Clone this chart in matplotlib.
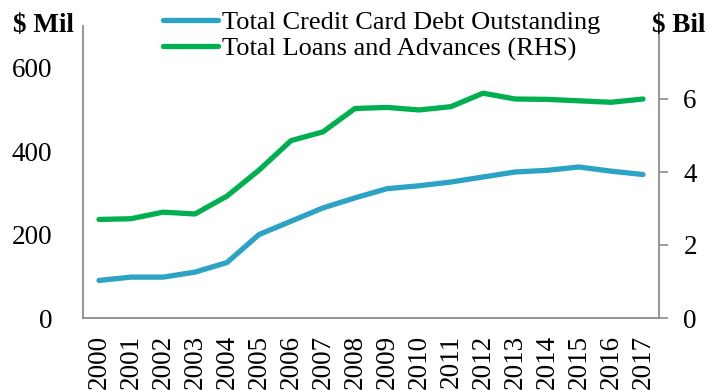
import matplotlib
matplotlib.use("Agg")
import matplotlib.pyplot as plt
from matplotlib.lines import Line2D

years = [str(y) for y in range(2000, 2018)]
credit_card_debt = [90, 98, 98, 110, 133, 200, 232, 264, 288, 310, 317, 326, 338, 350, 354, 362, 352, 344]
loans_advances = [2.70, 2.72, 2.90, 2.85, 3.34, 4.05, 4.86, 5.10, 5.74, 5.77, 5.70, 5.79, 6.16, 6.00, 5.99, 5.95, 5.91, 6.00]
left_ticks = [0, 200, 400, 600]
right_ticks = [0, 2, 4, 6]

plt.rcParams['font.family'] = ['Liberation Serif', 'DejaVu Serif']
FS = 19.5
blue = '#2CA3C5'
green = '#00B050'
spine_c = '#8C8C8C'

fig = plt.figure(figsize=(7.07, 3.9), dpi=100)
ax = fig.add_axes([83/707, 1-318/390, (659-83)/707, (318-26)/390])
ax2 = ax.twinx()

x = list(range(len(years)))
ax.plot(x, credit_card_debt, color=blue, lw=3.8, solid_capstyle='round', solid_joinstyle='round')
ax2.plot(x, loans_advances, color=green, lw=3.8, solid_capstyle='round', solid_joinstyle='round')

ax.set_xlim(-0.5, len(years) - 0.5)
ax.set_ylim(0, 700)
ax2.set_ylim(0, 8)
ax.set_xticks(x)
ax.set_xticklabels(years, rotation=90, fontsize=FS)
ax.set_yticks(left_ticks)
ax.set_yticklabels([str(v) for v in left_ticks], fontsize=FS)
ax2.set_yticks(right_ticks)
ax2.set_yticklabels([str(v) for v in right_ticks], fontsize=FS)

ax.tick_params(axis='x', length=0, pad=12)
ax.tick_params(axis='y', length=0, pad=22)
ax2.tick_params(axis='y', length=6.5, width=1.2, color=spine_c, pad=11)

for a in (ax, ax2):
    a.spines['top'].set_visible(False)
    for s in ('left', 'right', 'bottom'):
        a.spines[s].set_color(spine_c)
        a.spines[s].set_linewidth(1.3)
ax.spines['right'].set_visible(False)
ax2.spines['left'].set_visible(False)
ax2.spines['bottom'].set_visible(False)

fig.text(13/707, 1-25/390, '$ Mil', fontsize=FS, fontweight='bold', ha='left', va='center')
fig.text(652/707, 1-25/390, '$ Bil', fontsize=FS, fontweight='bold', ha='left', va='center')

handles = [Line2D([], [], color=blue, lw=3.8, solid_capstyle='round'),
           Line2D([], [], color=green, lw=3.8, solid_capstyle='round')]
labels = ['Total Credit Card Debt Outstanding', 'Total Loans and Advances (RHS)']
fig.legend(handles, labels, loc='upper left', bbox_to_anchor=(152/707, 1.0),
           frameon=False, fontsize=19, handlelength=2.1, handletextpad=0.15,
           labelspacing=0.12, borderaxespad=0)

fig.savefig('out.png', dpi=100)
